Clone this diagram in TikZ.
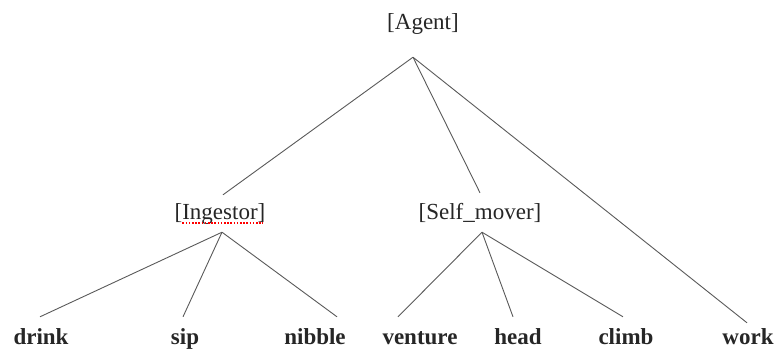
\documentclass[tikz,border=0pt]{standalone}
\usepackage{fontspec}
\setmainfont{Liberation Serif}
\begin{document}
\begin{tikzpicture}[x=1pt,y=1pt,
  lbl/.style={font=\fontsize{23}{23}\selectfont, text=black!85, inner sep=0pt,
              text height=16pt, text depth=5pt, anchor=base},
  word/.style={lbl, font=\fontsize{23}{23}\selectfont\bfseries},
  branch/.style={draw=black!65, line width=0.9pt},
  spell/.style={draw=red, line width=1.6pt, dash pattern=on 1.6pt off 1.6pt}]
  \useasboundingbox (0,0) rectangle (777,-351);

  % category labels
  \node[lbl] (agent) at (423,-29) {[Agent]};
  \node[lbl] (ing)   at (220,-219) {[Ingestor]};
  \node[lbl] (self)  at (480,-219) {[Self\_mover]};

  % leaf words
  \node[word] (drink)   at (41,-344)  {drink};
  \node[word] (sip)     at (185,-344) {sip};
  \node[word] (nibble)  at (315,-344) {nibble};
  \node[word] (venture) at (420,-344) {venture};
  \node[word] (head)    at (518,-344) {head};
  \node[word] (climb)   at (626,-344) {climb};
  \node[word] (work)    at (748,-344) {work};

  % top level branches
  \draw[branch] ([shift={(-10pt,-23pt)}]agent.south) -- ([shift={(3pt,8pt)}]ing.north);
  \draw[branch] ([shift={(-10pt,-23pt)}]agent.south) -- ([yshift=10pt]self.north);
  \draw[branch] ([shift={(-10pt,-23pt)}]agent.south) -- ([shift={(-1pt,5pt)}]work.north);

  % Ingestor branches
  \draw[branch] ([shift={(2pt,-8pt)}]ing.south) -- ([shift={(-1pt,11pt)}]drink.north);
  \draw[branch] ([shift={(2pt,-8pt)}]ing.south) -- ([shift={(-2pt,11pt)}]sip.north);
  \draw[branch] ([shift={(2pt,-8pt)}]ing.south) -- ([shift={(22pt,11pt)}]nibble.north);

  % Self_mover branches
  \draw[branch] ([shift={(2pt,-8pt)}]self.south) -- ([shift={(-22pt,11pt)}]venture.north);
  \draw[branch] ([shift={(2pt,-8pt)}]self.south) -- ([shift={(-5pt,11pt)}]head.north);
  \draw[branch] ([shift={(2pt,-8pt)}]self.south) -- ([shift={(-3pt,11pt)}]climb.north);

  % spell-check underline
  \draw[spell] ([shift={(8pt,1pt)}]ing.south west) -- ([shift={(-3pt,1pt)}]ing.south east);
\end{tikzpicture}
\end{document}
